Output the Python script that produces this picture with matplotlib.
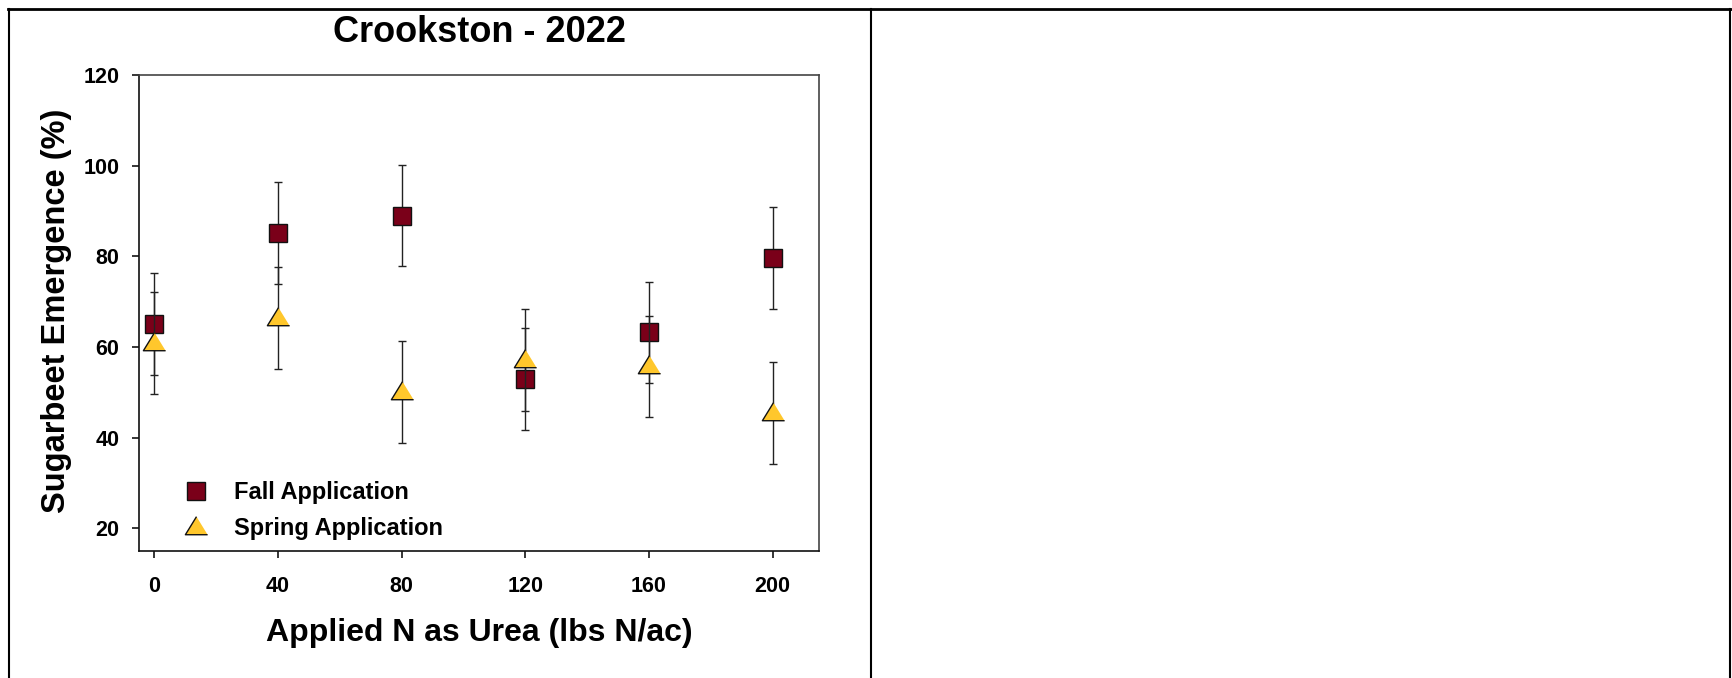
import matplotlib
matplotlib.use("Agg")
import matplotlib.pyplot as plt
from matplotlib.lines import Line2D

plt.rcParams['font.family'] = ['Liberation Sans', 'DejaVu Sans']
plt.rcParams['font.weight'] = 'bold'

# ---- data ----
n_rates = [0, 40, 80, 120, 160, 200]
fall_mean = [65.1, 85.1, 89.0, 52.9, 63.2, 79.6]
fall_err = [11.2, 11.2, 11.2, 11.2, 11.2, 11.2]
spring_mean = [60.9, 66.4, 50.1, 57.1, 55.7, 45.5]
spring_err = [11.2, 11.2, 11.2, 11.2, 11.2, 11.2]
x_ticks = [0, 40, 80, 120, 160, 200]
y_ticks = [20, 40, 60, 80, 100, 120]
title = "Crookston - 2022"
xlabel = "Applied N as Urea (lbs N/ac)"
ylabel = "Sugarbeet Emergence (%)"
series_labels = ["Fall Application", "Spring Application"]

FALL_COLOR = "#7A0019"
SPRING_COLOR = "#FFC72C"

W, H = 1732, 678
fig = plt.figure(figsize=(W / 100, H / 100), dpi=100)

# axes placement (pixels)
left, right, top, bottom = 139, 819, 75, 551
ax = fig.add_axes([left / W, 1 - bottom / H, (right - left) / W, (bottom - top) / H])

tri = [(0, 1.2), (-1.23, -0.8), (1.23, -0.8)]
SQ_MS = 13
TRI_MS = 16

ax.errorbar(n_rates, fall_mean, yerr=fall_err, fmt='none', ecolor='#222222',
            elinewidth=1.0, capsize=3, capthick=1.0, zorder=2)
ax.plot(n_rates, fall_mean, linestyle='none', marker='s', markersize=SQ_MS,
        markerfacecolor=FALL_COLOR, markeredgecolor='#111111', markeredgewidth=1.0, zorder=3)
ax.errorbar(n_rates, spring_mean, yerr=spring_err, fmt='none', ecolor='#222222',
            elinewidth=1.0, capsize=3, capthick=1.0, zorder=4)
ax.plot(n_rates, spring_mean, linestyle='none', marker=tri, markersize=TRI_MS,
        markerfacecolor=SPRING_COLOR, markeredgecolor='#111111', markeredgewidth=1.0, zorder=5)

ax.set_xlim(-5, 215)
ax.set_ylim(15, 120)
ax.set_xticks(x_ticks)
ax.set_yticks(y_ticks)
ax.tick_params(axis='both', direction='out', length=5, width=1.1, labelsize=15.5)
ax.tick_params(axis='x', pad=13)
ax.tick_params(axis='y', pad=9)
for lab in ax.get_xticklabels() + ax.get_yticklabels():
    lab.set_fontweight('bold')

for s in ['left', 'bottom']:
    ax.spines[s].set_color('#111111')
    ax.spines[s].set_linewidth(1.2)
for s in ['top', 'right']:
    ax.spines[s].set_color('#444444')
    ax.spines[s].set_linewidth(1.2)

# legend
handles = [
    Line2D([], [], linestyle='none', marker='s', markersize=SQ_MS,
           markerfacecolor=FALL_COLOR, markeredgecolor='#111111', markeredgewidth=1.0),
    Line2D([], [], linestyle='none', marker=tri, markersize=TRI_MS,
           markerfacecolor=SPRING_COLOR, markeredgecolor='#111111', markeredgewidth=1.0),
]
leg = fig.legend(handles, series_labels, loc='upper left',
                 bbox_to_anchor=(184 / W, 1 - 481.5 / H), frameon=False,
                 prop={'size': 17, 'weight': 'bold'}, handlelength=1.0,
                 handletextpad=1.1, labelspacing=0.55, borderpad=0, borderaxespad=0)

# texts
fig.text(480 / W, 1 - 42 / H, title, ha='center', va='baseline',
         fontsize=26, fontweight='bold')
fig.text(479 / W, 1 - 641 / H, xlabel, ha='center', va='baseline',
         fontsize=23, fontweight='bold')
fig.text(56 / W, 1 - 311 / H, ylabel, ha='center', va='center', rotation=90,
         fontsize=23.5, fontweight='bold')

# table-like border lines
fig.add_artist(Line2D([8 / W, 1.0], [1 - 9 / H, 1 - 9 / H], transform=fig.transFigure,
                      color='black', linewidth=2.0))
for xp in [9, 871, 1730]:
    fig.add_artist(Line2D([xp / W, xp / W], [0, 1 - 9 / H], transform=fig.transFigure,
                          color='black', linewidth=1.5))

fig.savefig("out.png", dpi=100, facecolor='white')
